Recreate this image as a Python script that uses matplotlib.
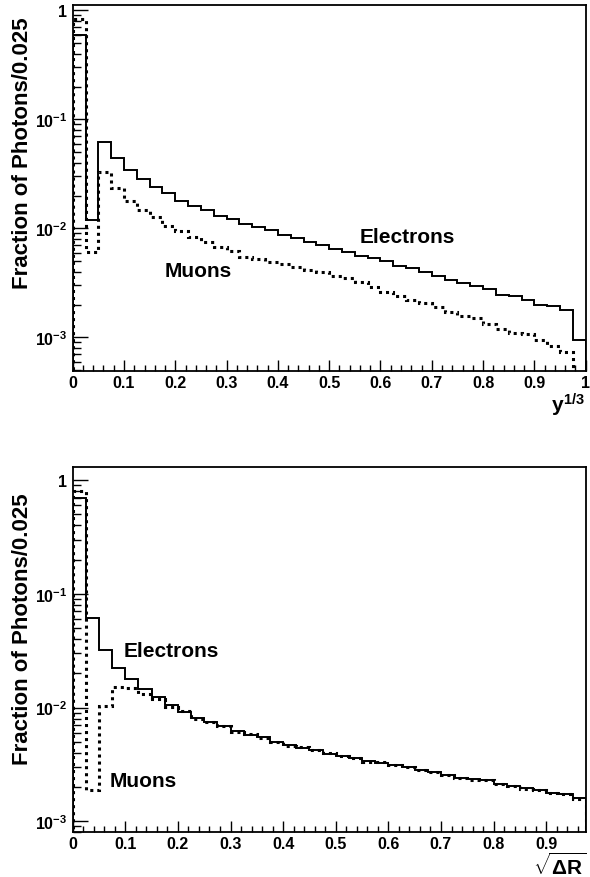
import numpy as np
import matplotlib
matplotlib.use('Agg')
from matplotlib import pyplot as plt
from matplotlib.ticker import FixedLocator, LogLocator, NullFormatter

plt.rcParams['font.family'] = ['Liberation Sans', 'DejaVu Sans']
plt.rcParams['font.weight'] = 'bold'
plt.rcParams['mathtext.fontset'] = 'custom'
plt.rcParams['mathtext.rm'] = 'Liberation Sans:bold'
plt.rcParams['mathtext.bf'] = 'Liberation Sans:bold'
plt.rcParams['mathtext.it'] = 'Liberation Sans:bold'
plt.rcParams['mathtext.sf'] = 'Liberation Sans:bold'

# top panel: y^(1/3), 40 bins of 0.025
edges_y = np.linspace(0, 1, 41)
elec_y = [0.589, 0.01205, 0.0619, 0.0444, 0.0347, 0.0281, 0.0239, 0.0211, 0.0180, 0.0160,
          0.0148, 0.0131, 0.0121, 0.0110, 0.0102, 0.0096, 0.0087, 0.0081, 0.00747, 0.00706,
          0.00648, 0.00612, 0.00562, 0.0053, 0.00503, 0.00455, 0.00431, 0.00396, 0.00369, 0.00339,
          0.00316, 0.00295, 0.00278, 0.00247, 0.00239, 0.00222, 0.00198, 0.00195, 0.00180, 0.00095]
muon_y = [0.83, 0.00604, 0.0328, 0.0234, 0.0180, 0.0149, 0.0127, 0.0106, 0.00955, 0.0083,
          0.00757, 0.00672, 0.00625, 0.00544, 0.00525, 0.00492, 0.00472, 0.00443, 0.0042, 0.00399,
          0.0037, 0.00351, 0.00323, 0.0029, 0.00259, 0.00241, 0.00222, 0.00207, 0.00189, 0.0017,
          0.00158, 0.0015, 0.00133, 0.00119, 0.00111, 0.00107, 0.00095, 0.00084, 0.00073, 0.0003]

# bottom panel: sqrt(dR), 39 bins of 0.025
edges_r = np.linspace(0, 0.975, 40)
elec_r = [0.695, 0.0614, 0.0322, 0.0223, 0.0177, 0.0146, 0.0124, 0.01045, 0.00913, 0.00809,
          0.00746, 0.00683, 0.00622, 0.00577, 0.00551, 0.00498, 0.00465, 0.00443, 0.00426, 0.00393,
          0.00375, 0.0036, 0.00339, 0.00327, 0.00314, 0.0030, 0.00285, 0.00271, 0.00257, 0.0024,
          0.00234, 0.00229, 0.00214, 0.00203, 0.00196, 0.00187, 0.00179, 0.00173, 0.0016]
muon_r = [0.796, 0.00187, 0.0103, 0.0153, 0.0148, 0.0132, 0.0119, 0.0101, 0.00925, 0.00800,
          0.00740, 0.00690, 0.00615, 0.00582, 0.00545, 0.00502, 0.00460, 0.00446, 0.00420, 0.00396,
          0.00372, 0.00362, 0.00335, 0.00329, 0.00310, 0.00302, 0.00282, 0.00273, 0.00254, 0.00242,
          0.00231, 0.00230, 0.00211, 0.00205, 0.00193, 0.00188, 0.00177, 0.00174, 0.00158]

xticks_y = [0, 0.1, 0.2, 0.3, 0.4, 0.5, 0.6, 0.7, 0.8, 0.9, 1.0]
xticks_r = [0, 0.1, 0.2, 0.3, 0.4, 0.5, 0.6, 0.7, 0.8, 0.9]
yticks = [1e-3, 1e-2, 1e-1, 1]
ylabels = ['$10^{-3}$', '$10^{-2}$', '$10^{-1}$', '1']

fig = plt.figure(figsize=(5.9, 8.78), dpi=100)
ax1 = fig.add_axes([0.1232, 0.576, 0.8695, 0.4177])
ax2 = fig.add_axes([0.1232, 0.0509, 0.8695, 0.4164])


def style(ax, xmax, ylim, xticks, xlabel, label_y):
    ax.set_yscale('log')
    ax.set_xlim(0, xmax)
    ax.set_ylim(*ylim)
    ax.set_xticks(xticks)
    ax.set_xticklabels(['%g' % t for t in xticks])
    ax.xaxis.set_minor_locator(FixedLocator(np.arange(0, xmax + 1e-9, 0.02)))
    ax.set_yticks(yticks)
    ax.set_yticklabels(ylabels)
    ax.yaxis.set_minor_locator(LogLocator(base=10, subs=np.arange(2, 10)))
    ax.yaxis.set_minor_formatter(NullFormatter())
    ax.tick_params(axis='both', which='both', direction='in', top=False, right=False)
    ax.tick_params(axis='x', which='major', length=8, width=1, labelsize=11.5, pad=3)
    ax.tick_params(axis='x', which='minor', length=4, width=1)
    ax.tick_params(axis='y', which='major', length=11, width=1, labelsize=11.5, pad=4)
    ax.tick_params(axis='y', which='minor', length=6, width=1)
    for s in ax.spines.values():
        s.set_linewidth(1.3)
    ax.set_ylabel('Fraction of Photons/0.025', fontsize=16, fontweight='bold')
    ax.yaxis.set_label_coords(-0.077, label_y)
    ax.set_xlabel(xlabel, fontsize=15, loc='right', labelpad=0)


# top
ax1.stairs(elec_y, edges_y, baseline=1e-6, color='black', lw=1.4)
ax1.stairs(muon_y, edges_y, baseline=1e-6, color='black', lw=2.2, linestyle=(0, (1, 1.3)))
style(ax1, 1.0, (4.9e-4, 1.13), xticks_y, '$y^{1/3}$', 0.598)
ax1.text(0.56, 0.0085, 'Electrons', fontsize=15, fontweight='bold', va='center')
ax1.text(0.18, 0.0041, 'Muons', fontsize=15, fontweight='bold', va='center')

# bottom
ax2.stairs(elec_r, edges_r, baseline=1e-6, color='black', lw=1.4)
ax2.stairs(muon_r, edges_r, baseline=1e-6, color='black', lw=2.2, linestyle=(0, (1, 1.3)))
style(ax2, 0.975, (8.0e-4, 1.31), xticks_r, r'$\sqrt{\Delta R}$', 0.559)
ax2.text(0.096, 0.0315, 'Electrons', fontsize=15, fontweight='bold', va='center')
ax2.text(0.071, 0.00228, 'Muons', fontsize=15, fontweight='bold', va='center')

fig.savefig('out.png', dpi=100)
